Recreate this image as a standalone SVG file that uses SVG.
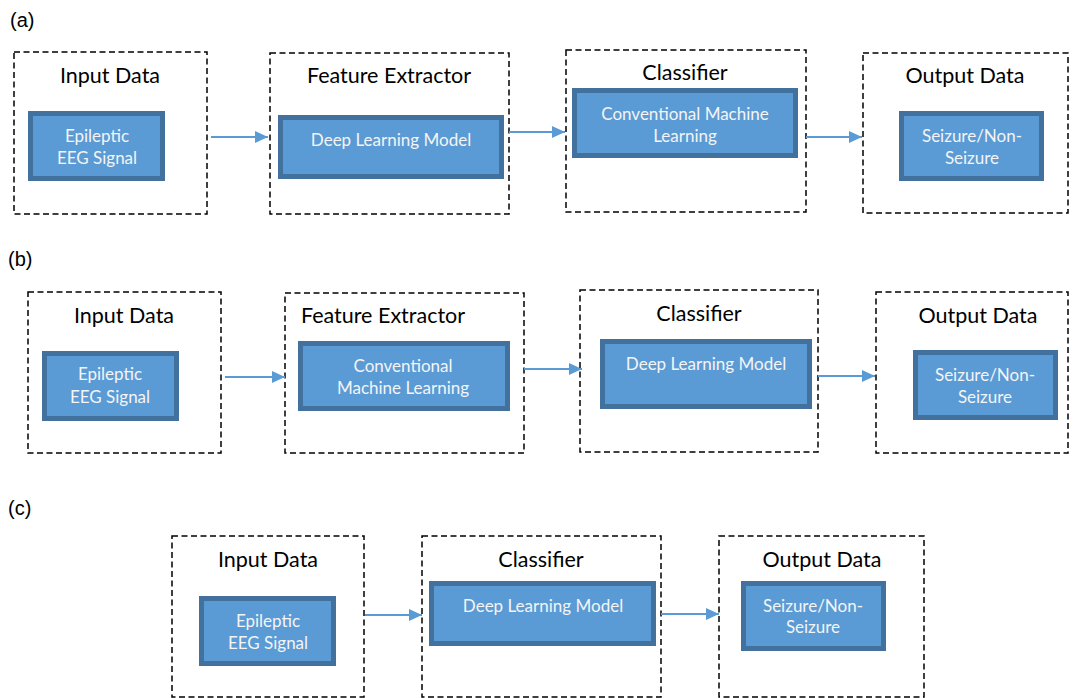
<svg xmlns="http://www.w3.org/2000/svg" width="1073" height="698" viewBox="0 0 1073 698">
  <style>
    .frame { fill: none; stroke: #000; stroke-width: 1.5; stroke-dasharray: 6 3.5; }
    .block { fill: #5B9BD5; stroke: #41719C; stroke-width: 5; }
    .title { font-family: Lato, "Open Sans", sans-serif; font-size: 21.5px; fill: #000; text-anchor: middle; }
    .inner { font-family: Lato, "Open Sans", sans-serif; font-size: 17px; fill: #F4F4F4; text-anchor: middle; }
    .tag { font-family: "Liberation Sans", Arial, sans-serif; font-size: 20px; fill: #000; }
    .link { stroke: #5B9BD5; stroke-width: 2; fill: none; marker-end: url(#head); }
  </style>
  <defs>
    <marker id="head" markerUnits="userSpaceOnUse" markerWidth="14" markerHeight="14" refX="13" refY="6" orient="auto">
      <path d="M0,0 L13,6 L0,12 Z" fill="#5B9BD5"/>
    </marker>
  </defs>
  <rect width="1073" height="698" fill="#fff"/>

  <!-- panel labels -->
  <text class="tag" x="10" y="27">(a)</text>
  <text class="tag" x="8" y="266">(b)</text>
  <text class="tag" x="8" y="515">(c)</text>

  <!-- row (a) -->
  <g id="a-input">
    <rect class="frame" x="14" y="52" width="193" height="162"/>
    <text class="title" x="110" y="83">Input Data</text>
    <rect class="block" x="30.5" y="113.5" width="132" height="65"/>
    <text class="inner" x="97" y="142">Epileptic</text>
    <text class="inner" x="97" y="164">EEG Signal</text>
  </g>
  <g id="a-feature">
    <rect class="frame" x="270" y="53" width="239" height="161"/>
    <text class="title" x="389" y="83">Feature Extractor</text>
    <rect class="block" x="280.5" y="117.5" width="221" height="59"/>
    <text class="inner" x="391" y="146">Deep Learning Model</text>
  </g>
  <g id="a-classifier">
    <rect class="frame" x="566" y="50" width="240" height="162"/>
    <text class="title" x="685" y="80">Classifier</text>
    <rect class="block" x="574.5" y="90.5" width="221" height="65"/>
    <text class="inner" x="685" y="120">Conventional Machine</text>
    <text class="inner" x="685" y="142">Learning</text>
  </g>
  <g id="a-output">
    <rect class="frame" x="863" y="53" width="205" height="160"/>
    <text class="title" x="965" y="83">Output Data</text>
    <rect class="block" x="901.5" y="113.5" width="140" height="65"/>
    <text class="inner" x="972" y="142">Seizure/Non-</text>
    <text class="inner" x="972" y="164">Seizure</text>
  </g>

  <!-- row (b) -->
  <g id="b-input">
    <rect class="frame" x="28" y="292" width="193" height="161"/>
    <text class="title" x="124" y="323">Input Data</text>
    <rect class="block" x="44.5" y="353.5" width="132" height="65"/>
    <text class="inner" x="110" y="380">Epileptic</text>
    <text class="inner" x="110" y="403">EEG Signal</text>
  </g>
  <g id="b-feature">
    <rect class="frame" x="285" y="293" width="239" height="160"/>
    <text class="title" x="383" y="323">Feature Extractor</text>
    <rect class="block" x="300.5" y="343.5" width="207" height="65"/>
    <text class="inner" x="403" y="372">Conventional</text>
    <text class="inner" x="403" y="394">Machine Learning</text>
  </g>
  <g id="b-classifier">
    <rect class="frame" x="580" y="290" width="238" height="162"/>
    <text class="title" x="699" y="321">Classifier</text>
    <rect class="block" x="602.5" y="341.5" width="207" height="65"/>
    <text class="inner" x="706" y="370">Deep Learning Model</text>
  </g>
  <g id="b-output">
    <rect class="frame" x="876" y="292" width="192" height="161"/>
    <text class="title" x="978" y="323">Output Data</text>
    <rect class="block" x="915.5" y="352.5" width="140" height="65"/>
    <text class="inner" x="985" y="381">Seizure/Non-</text>
    <text class="inner" x="985" y="403">Seizure</text>
  </g>

  <!-- row (c) -->
  <g id="c-input">
    <rect class="frame" x="172" y="536" width="192" height="161"/>
    <text class="title" x="268" y="567">Input Data</text>
    <rect class="block" x="201.5" y="598.5" width="132" height="65"/>
    <text class="inner" x="268" y="627">Epileptic</text>
    <text class="inner" x="268" y="649">EEG Signal</text>
  </g>
  <g id="c-classifier">
    <rect class="frame" x="422" y="536" width="239" height="161"/>
    <text class="title" x="541" y="567">Classifier</text>
    <rect class="block" x="431.5" y="583.5" width="222" height="60"/>
    <text class="inner" x="543" y="612">Deep Learning Model</text>
  </g>
  <g id="c-output">
    <rect class="frame" x="719" y="536" width="205" height="161"/>
    <text class="title" x="822" y="567">Output Data</text>
    <rect class="block" x="743.5" y="583.5" width="140" height="65"/>
    <text class="inner" x="813" y="612">Seizure/Non-</text>
    <text class="inner" x="813" y="633">Seizure</text>
  </g>

  <!-- connectors -->
  <g id="connectors">
    <line class="link" x1="211" y1="137" x2="268" y2="137"/>
    <line class="link" x1="509" y1="132" x2="565" y2="132"/>
    <line class="link" x1="806" y1="137" x2="862" y2="137"/>
    <line class="link" x1="225" y1="377" x2="285" y2="377"/>
    <line class="link" x1="524" y1="369" x2="582" y2="369"/>
    <line class="link" x1="818" y1="376" x2="875" y2="376"/>
    <line class="link" x1="365" y1="615" x2="422" y2="615"/>
    <line class="link" x1="661" y1="614" x2="719" y2="614"/>
  </g>
</svg>
